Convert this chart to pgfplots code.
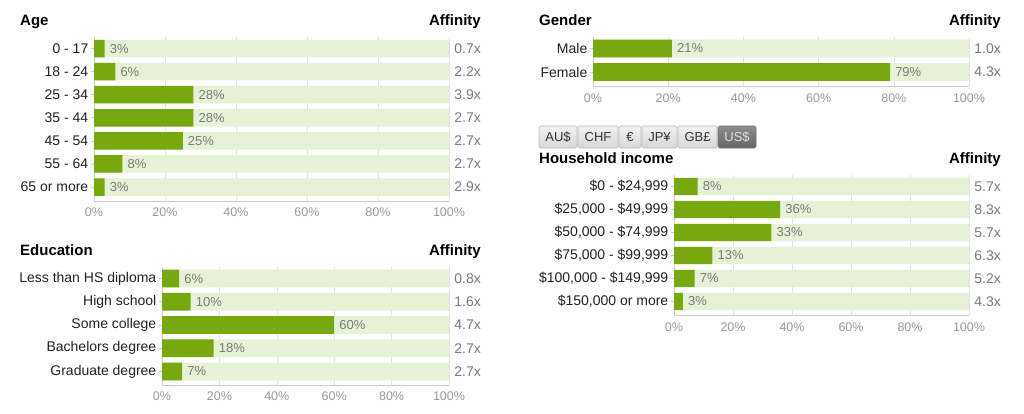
\documentclass[border=0pt]{standalone}
\usepackage{fontspec}
\setmainfont{Liberation Sans}
\usepackage{pgfplots}
\pgfplotsset{compat=1.18}
\usepackage{pgfplotstable}

\definecolor{barGreen}{HTML}{78A80F}
\definecolor{trackGreen}{HTML}{E6F2D6}
\definecolor{valGray}{HTML}{7A7A7A}
\definecolor{tickGray}{HTML}{9A9A9A}
\definecolor{lineGray}{HTML}{CCCCCC}
\definecolor{gridGray}{HTML}{E2E2E2}
\definecolor{labelText}{HTML}{222222}

% row index counts up from the bottom bar
\pgfplotstableread{
row pct aff
6 3  0.7x
5 6  2.2x
4 28 3.9x
3 28 2.7x
2 25 2.7x
1 8  2.7x
0 3  2.9x
}\agedata

\pgfplotstableread{
row pct aff
4 6  0.8x
3 10 1.6x
2 60 4.7x
1 18 2.7x
0 7  2.7x
}\edudata

\pgfplotstableread{
row pct aff
1 21 1.0x
0 79 4.3x
}\genderdata

\pgfplotstableread{
row pct aff
5 8  5.7x
4 36 8.3x
3 33 5.7x
2 13 6.3x
1 7  5.2x
0 3  4.3x
}\incomedata

\newcommand\titlefont{\fontsize{15}{18}\selectfont\bfseries}

\pgfplotsset{
  /pgf/number format/assume math mode=true,
  panel/.style={
    scale only axis, xmin=0, xmax=100, clip=false,
    axis x line*=bottom, axis y line*=left,
    axis line style={lineGray, -, line width=0.8pt},
    xtick={0,20,...,100},
    xticklabels={0\%,20\%,40\%,60\%,80\%,100\%},
    xticklabel style={font=\fontsize{12.5}{14}\selectfont, text=tickGray, inner sep=0pt, yshift=-4pt},
    x tick style={draw=none},
    xmajorgrids, major grid style={gridGray, line width=0.6pt},
    tick align=outside, major tick length=3pt,
    y tick style={lineGray, line width=0.6pt},
    yticklabel style={font=\fontsize{14}{16}\selectfont, text=labelText, inner sep=0pt, xshift=-2.5pt},
  },
  track/.style={xbar, bar width=0.76, bar shift=0pt, fill=trackGreen, draw=none},
  share/.style={xbar, bar width=0.76, bar shift=0pt, fill=barGreen, draw=none,
    point meta=x,
    nodes near coords={\pgfmathprintnumber{\pgfplotspointmeta}\%},
    nodes near coords style={anchor=west, inner sep=0pt, xshift=5pt, text=valGray,
      font=\fontsize{13}{15}\selectfont}},
  affinity/.style={draw=none, mark=none, point meta=explicit symbolic,
    nodes near coords,
    nodes near coords style={anchor=east, inner sep=0pt, xshift=32pt, text=valGray,
      font=\fontsize{14}{16}\selectfont}},
}

\begin{document}
\begin{tikzpicture}
\useasboundingbox[fill=white] (0pt,0pt) rectangle (1024pt,413pt);

% ---------- Age ----------
\begin{axis}[panel, at={(94pt,212.1pt)}, anchor=south west,
  width=355pt, height=163.9pt, ymin=-0.6, ymax=6.5,
  ytick={0,...,6},
  yticklabels={65 or more,55 - 64,45 - 54,35 - 44,25 - 34,18 - 24,0 - 17}]
  \addplot[track] table[x expr=100, y=row] {\agedata};
  \addplot[share] table[x=pct, y=row] {\agedata};
  \addplot[affinity] table[x expr=100, y=row, meta=aff] {\agedata};
\end{axis}
\node[anchor=base west, inner sep=0pt, font=\titlefont] at (20pt,387pt) {Age};
\node[anchor=base east, inner sep=0pt, font=\titlefont] at (481pt,387pt) {Affinity};

% ---------- Education ----------
\begin{axis}[panel, at={(162pt,28pt)}, anchor=south west,
  width=287pt, height=118.1pt, ymin=-0.58, ymax=4.5,
  ytick={0,...,4},
  yticklabels={Graduate degree,Bachelors degree,Some college,High school,Less than HS diploma}]
  \addplot[track] table[x expr=100, y=row] {\edudata};
  \addplot[share] table[x=pct, y=row] {\edudata};
  \addplot[affinity] table[x expr=100, y=row, meta=aff] {\edudata};
\end{axis}
\node[anchor=base west, inner sep=0pt, font=\titlefont] at (20pt,158pt) {Education};
\node[anchor=base east, inner sep=0pt, font=\titlefont] at (481pt,158pt) {Affinity};

% ---------- Gender ----------
\begin{axis}[panel, at={(593pt,326.9pt)}, anchor=south west,
  width=376pt, height=49.35pt, ymin=-0.6, ymax=1.5,
  ytick={0,1},
  yticklabels={Female,Male}]
  \addplot[track] table[x expr=100, y=row] {\genderdata};
  \addplot[share] table[x=pct, y=row] {\genderdata};
  \addplot[affinity] table[x expr=100, y=row, meta=aff] {\genderdata};
\end{axis}
\node[anchor=base west, inner sep=0pt, font=\titlefont] at (539pt,387pt) {Gender};
\node[anchor=base east, inner sep=0pt, font=\titlefont] at (1001pt,387pt) {Affinity};

% ---------- Currency selector ----------
\begin{scope}[every node/.style={font=\fontsize{13}{15}\selectfont, inner sep=0pt}]
  \foreach \xa/\xb/\lbl in {539/577/AU\$, 578/618/CHF, 619/641/€, 642/677/JP¥, 678/717/GB£} {
    \path[top color=white!95!black, bottom color=white!84!black, draw=white!72!black,
          line width=0.6pt, rounded corners=1.5pt] (\xa pt,265pt) rectangle (\xb pt,287pt);
    \node[text=black!80] at ({(\xa+\xb)/2*1pt},276pt) {\lbl};
  }
  \path[top color=black!45, bottom color=black!60, draw=black!55,
        line width=0.6pt, rounded corners=1.5pt] (718pt,265pt) rectangle (756pt,287pt);
  \node[text=white!88!black] at (737pt,276pt) {US\$};
\end{scope}

% ---------- Household income ----------
\begin{axis}[panel, at={(674pt,97.93pt)}, anchor=south west,
  width=295pt, height=140.07pt, ymin=-0.59, ymax=5.5,
  ytick={0,...,5},
  yticklabels={{\$150,000 or more},{\$100,000 - \$149,999},{\$75,000 - \$99,999},
               {\$50,000 - \$74,999},{\$25,000 - \$49,999},{\$0 - \$24,999}}]
  \addplot[track] table[x expr=100, y=row] {\incomedata};
  \addplot[share] table[x=pct, y=row] {\incomedata};
  \addplot[affinity] table[x expr=100, y=row, meta=aff] {\incomedata};
\end{axis}
\node[anchor=base west, inner sep=0pt, font=\titlefont] at (539pt,250pt) {Household income};
\node[anchor=base east, inner sep=0pt, font=\titlefont] at (1001pt,250pt) {Affinity};
\end{tikzpicture}
\end{document}
